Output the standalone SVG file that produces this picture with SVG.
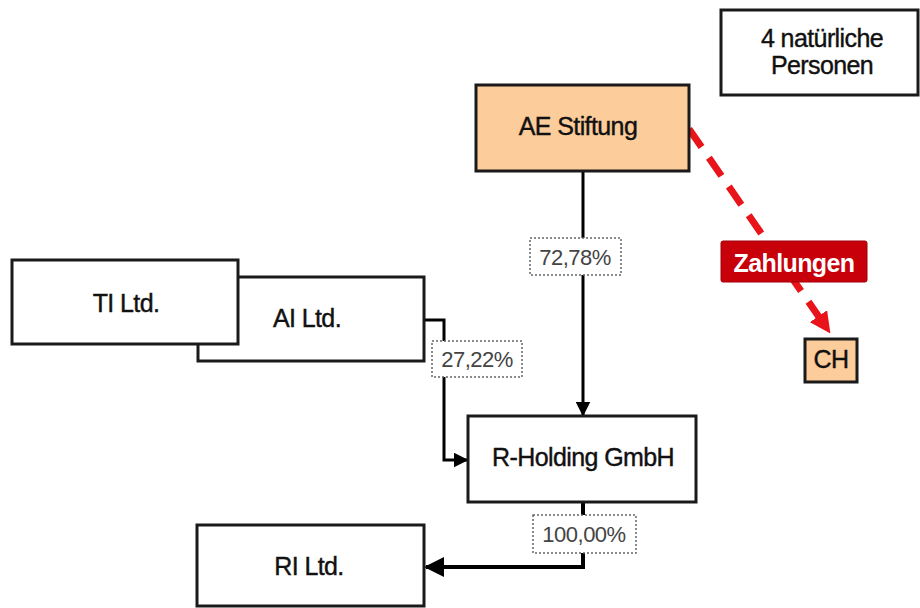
<svg xmlns="http://www.w3.org/2000/svg" width="920" height="608" viewBox="0 0 920 608">
<defs>
<style>
.box{fill:#ffffff;stroke:#1a1a1a;stroke-width:3}
.peach{fill:#fccc9a;stroke:#1a1a1a;stroke-width:3}
.t{font-family:"Liberation Sans",Arial,sans-serif;font-size:25px;fill:#111;stroke:#111;stroke-width:0.4;text-anchor:middle;letter-spacing:-0.6px}
.pct{font-family:"Liberation Sans",Arial,sans-serif;font-size:22px;fill:#444;text-anchor:middle;letter-spacing:-0.5px}
.lbl{fill:#ffffff;stroke:#666;stroke-width:1.5;stroke-dasharray:2 2}
.con{fill:none;stroke:#000;stroke-width:3}
</style>
<marker id="ah" viewBox="0 0 10 10" refX="9" refY="5" markerWidth="5" markerHeight="5" orient="auto" markerUnits="strokeWidth">
<path d="M0,0 L10,5 L0,10 z" fill="#000"/>
</marker>
<marker id="ahr" viewBox="0 0 10 10" refX="8" refY="5" markerWidth="3" markerHeight="3" orient="auto" markerUnits="strokeWidth">
<path d="M0,0 L10,5 L0,10 z" fill="#e8141a"/>
</marker>
</defs>
<rect width="920" height="608" fill="#ffffff"/>

<g id="connectors">
<path class="con" d="M583,171 V415" marker-end="url(#ah)"/>
<path class="con" d="M424,320 H444 V460 H467" marker-end="url(#ah)"/>
<path class="con" style="stroke-width:4" d="M583,502 V567 H426" marker-end="url(#ah)"/>
<path d="M689,129 L828,330" fill="none" stroke="#e8141a" stroke-width="7" stroke-dasharray="22 13" marker-end="url(#ahr)"/>
</g>

<g id="personen">
<rect class="box" x="721" y="10" width="197" height="85"/>
<text class="t" x="822" y="47">4 natürliche</text>
<text class="t" x="822" y="74">Personen</text>
</g>

<g id="ae-stiftung">
<rect class="peach" x="476" y="85" width="213" height="86"/>
<text class="t" x="578" y="135">AE Stiftung</text>
</g>

<g id="ai-ltd">
<rect class="box" x="198" y="277" width="226" height="84"/>
<text class="t" x="307" y="327">AI Ltd.</text>
</g>

<g id="ti-ltd">
<rect class="box" x="12" y="260" width="226" height="84"/>
<text class="t" x="126" y="312">TI Ltd.</text>
</g>

<g id="r-holding">
<rect class="box" x="468" y="416" width="228" height="86"/>
<text class="t" x="583" y="466">R-Holding  GmbH</text>
</g>

<g id="ri-ltd">
<rect class="box" x="197" y="525" width="227" height="81"/>
<text class="t" x="309" y="575">RI Ltd.</text>
</g>

<g id="ch">
<rect class="peach" x="805" y="339" width="52" height="43"/>
<text class="t" x="831" y="368">CH</text>
</g>

<g id="labels">
<rect class="lbl" x="530" y="238" width="91" height="37"/>
<text class="pct" x="575" y="265">72,78%</text>
<rect class="lbl" x="432" y="341" width="90" height="36"/>
<text class="pct" x="477" y="367">27,22%</text>
<rect class="lbl" x="533" y="515" width="103" height="38"/>
<text class="pct" x="584" y="542">100,00%</text>
<rect x="721" y="241" width="146" height="41" rx="2" fill="#c8000a" stroke="#a00008" stroke-width="1"/>
<text x="794" y="272" font-family="'Liberation Sans',Arial,sans-serif" font-size="25" font-weight="bold" letter-spacing="-0.6" fill="#ffffff" text-anchor="middle">Zahlungen</text>
</g>
</svg>
